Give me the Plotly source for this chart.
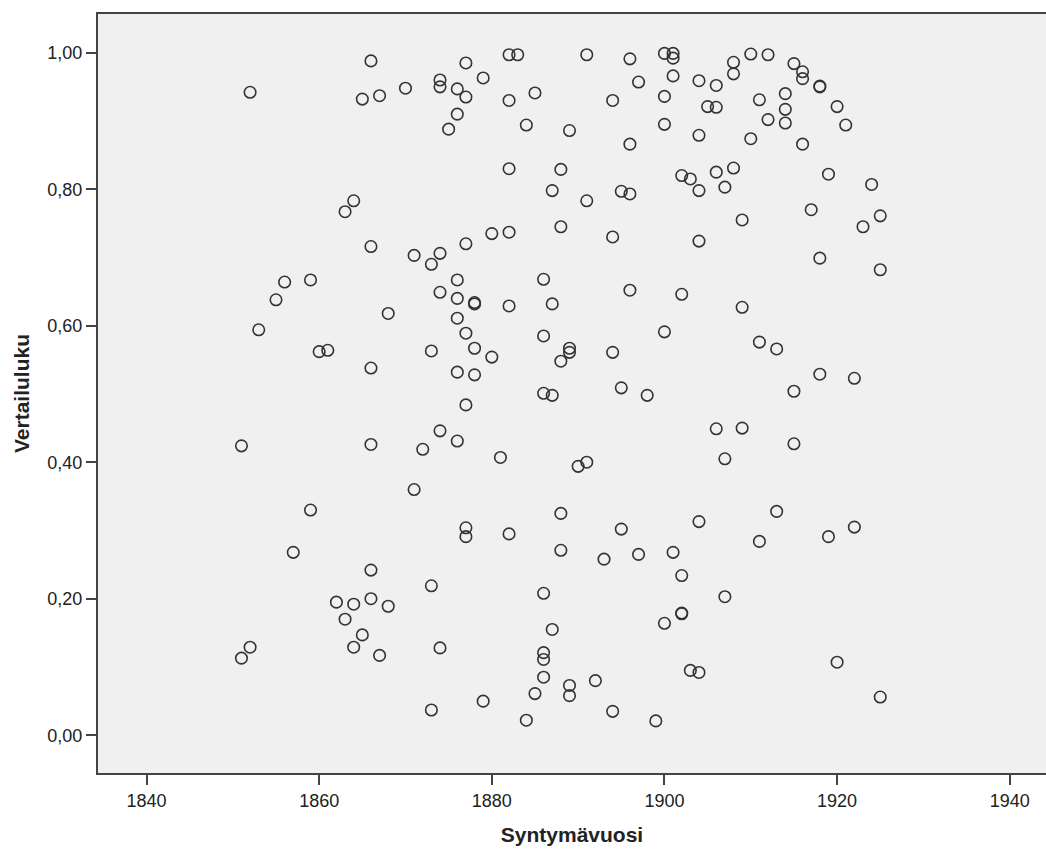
import plotly.graph_objects as go

# Birth year (Syntymävuosi) and comparison score (Vertailuluku) for each person
birth_year = [
    1852, 1866, 1865, 1867, 1870, 1874, 1874, 1876, 1877, 1877, 1879, 1876, 1875,
    1882, 1883, 1882, 1885, 1884, 1889, 1891, 1894, 1896, 1897, 1896, 1900, 1901,
    1901, 1901, 1900, 1900, 1904, 1906, 1905, 1906, 1904, 1908, 1908, 1910, 1912,
    1915, 1916, 1916, 1918, 1918, 1911, 1914, 1914, 1914, 1912, 1920, 1921, 1910,
    1916,
    1882, 1888, 1887, 1891, 1895, 1896, 1902, 1903, 1904, 1906, 1907, 1908, 1919,
    1924, 1909, 1917, 1925, 1923, 1918, 1925, 1864, 1863, 1866, 1871, 1874, 1873,
    1877, 1880, 1882, 1888, 1894, 1904,
    1856, 1855, 1859, 1853, 1868, 1876, 1874, 1876, 1878, 1878, 1876, 1877, 1882,
    1886, 1887, 1896, 1902, 1886, 1900, 1909, 1911, 1913, 1860, 1861, 1873, 1866,
    1878, 1876, 1878, 1877, 1880, 1889, 1889, 1888, 1894, 1895, 1886, 1887, 1898,
    1918, 1922, 1915,
    1851, 1866, 1874, 1876, 1872, 1881, 1890, 1891, 1906, 1909, 1907, 1915, 1871,
    1859, 1877, 1877, 1882, 1888, 1895, 1904, 1913, 1922, 1919, 1911, 1901, 1857,
    1888, 1893, 1897, 1866, 1873, 1902, 1862, 1864, 1866, 1868, 1863, 1886, 1907,
    1865, 1864, 1867, 1874, 1887, 1900, 1902, 1902, 1920, 1852, 1851, 1886, 1886,
    1886, 1885, 1889, 1889, 1892, 1879, 1873, 1884, 1894, 1899, 1903, 1904, 1925,
]

score = [
    0.942, 0.988, 0.932, 0.937, 0.948, 0.960, 0.950, 0.947, 0.985, 0.935, 0.963, 0.910, 0.888,
    0.997, 0.997, 0.930, 0.941, 0.894, 0.886, 0.997, 0.930, 0.991, 0.957, 0.866, 0.999, 0.999,
    0.992, 0.966, 0.936, 0.895, 0.959, 0.952, 0.921, 0.920, 0.879, 0.986, 0.969, 0.998, 0.997,
    0.984, 0.972, 0.962, 0.950, 0.951, 0.931, 0.940, 0.917, 0.897, 0.902, 0.921, 0.894, 0.874,
    0.866,
    0.830, 0.829, 0.798, 0.783, 0.797, 0.793, 0.820, 0.815, 0.798, 0.825, 0.803, 0.831, 0.822,
    0.807, 0.755, 0.770, 0.761, 0.745, 0.699, 0.682, 0.783, 0.767, 0.716, 0.703, 0.706, 0.690,
    0.720, 0.735, 0.737, 0.745, 0.730, 0.724,
    0.664, 0.638, 0.667, 0.594, 0.618, 0.667, 0.649, 0.640, 0.634, 0.632, 0.611, 0.589, 0.629,
    0.668, 0.632, 0.652, 0.646, 0.585, 0.591, 0.627, 0.576, 0.566, 0.562, 0.564, 0.563, 0.538,
    0.567, 0.532, 0.528, 0.484, 0.554, 0.567, 0.561, 0.548, 0.561, 0.509, 0.501, 0.498, 0.498,
    0.529, 0.523, 0.504,
    0.424, 0.426, 0.446, 0.431, 0.419, 0.407, 0.394, 0.400, 0.449, 0.450, 0.405, 0.427, 0.360,
    0.330, 0.304, 0.291, 0.295, 0.325, 0.302, 0.313, 0.328, 0.305, 0.291, 0.284, 0.268, 0.268,
    0.271, 0.258, 0.265, 0.242, 0.219, 0.234, 0.195, 0.192, 0.200, 0.189, 0.170, 0.208, 0.203,
    0.147, 0.129, 0.117, 0.128, 0.155, 0.164, 0.178, 0.179, 0.107, 0.129, 0.113, 0.121, 0.111,
    0.085, 0.061, 0.073, 0.058, 0.080, 0.050, 0.037, 0.022, 0.035, 0.021, 0.095, 0.092, 0.056,
]

x_ticks = [1840, 1860, 1880, 1900, 1920, 1940]
y_ticks = [0.0, 0.2, 0.4, 0.6, 0.8, 1.0]
y_tick_text = ["0,00", "0,20", "0,40", "0,60", "0,80", "1,00"]

AXIS_COLOR = "#444444"
TEXT_COLOR = "#222222"
TICK_FONT = dict(family="Liberation Sans, Arial, sans-serif", size=18, color=TEXT_COLOR)
TITLE_FONT = dict(family="Liberation Sans Narrow, Arial Narrow, Liberation Sans, sans-serif",
                  size=21, color=TEXT_COLOR, weight="bold")

fig = go.Figure(
    go.Scatter(
        x=birth_year,
        y=score,
        mode="markers",
        marker=dict(symbol="circle-open", size=11.5, color="#333333",
                    line=dict(width=1.6, color="#333333")),
        hoverinfo="x+y",
    )
)

fig.update_layout(
    width=1046,
    height=852,
    margin=dict(l=98, r=0, t=14, b=79),
    paper_bgcolor="white",
    plot_bgcolor="#f0f0f0",
    showlegend=False,
    xaxis=dict(
        range=[1834.38, 1944.2],
        tickvals=x_ticks,
        ticks="outside",
        ticklen=10,
        tickwidth=2,
        tickcolor=AXIS_COLOR,
        showline=True,
        linecolor=AXIS_COLOR,
        linewidth=2,
        mirror=True,
        showgrid=False,
        zeroline=False,
        tickfont=TICK_FONT,
        title=dict(text="Syntymävuosi", font=TITLE_FONT, standoff=18),
    ),
    yaxis=dict(
        range=[-0.0553, 1.0567],
        tickvals=y_ticks,
        ticktext=y_tick_text,
        ticks="outside",
        ticklen=10,
        tickwidth=2,
        tickcolor=AXIS_COLOR,
        showline=True,
        linecolor=AXIS_COLOR,
        linewidth=2,
        showgrid=False,
        zeroline=False,
        tickfont=TICK_FONT,
        title=dict(text="Vertailuluku", font=TITLE_FONT, standoff=12),
    ),
)

fig.write_html("out.html")
